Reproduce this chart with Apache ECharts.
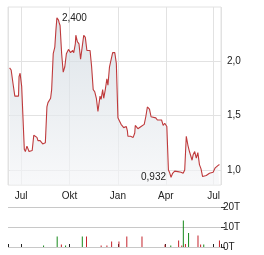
<!DOCTYPE html>
<html>
<head>
<meta charset="utf-8">
<script src="https://cdn.jsdelivr.net/npm/echarts@6/dist/echarts.min.js"></script>
<style>
  html, body { margin: 0; padding: 0; background: #fff; }
  #chart { width: 264px; height: 255px; }
</style>
</head>
<body>
<div id="chart"></div>
<script>
// price (closing values)
var priceDates = [
  '2023-06-09','2023-06-12','2023-06-16','2023-06-19','2023-06-26','2023-06-27','2023-06-29',
  '2023-07-02','2023-07-04','2023-07-07','2023-07-09','2023-07-12','2023-07-16','2023-07-18',
  '2023-07-22','2023-07-25','2023-07-28','2023-07-31','2023-08-02','2023-08-06','2023-08-08',
  '2023-08-11','2023-08-13','2023-08-16','2023-08-19','2023-08-21','2023-08-24','2023-08-26',
  '2023-08-28','2023-08-31','2023-09-03','2023-09-05','2023-09-07','2023-09-10','2023-09-11',
  '2023-09-13','2023-09-16','2023-09-19','2023-09-22','2023-09-25','2023-09-29','2023-10-03',
  '2023-10-07','2023-10-09','2023-10-12','2023-10-13','2023-10-16','2023-10-19','2023-10-22',
  '2023-10-25','2023-10-28','2023-10-31','2023-11-03','2023-11-09','2023-11-12','2023-11-15',
  '2023-11-18','2023-11-21','2023-11-24','2023-11-28','2023-11-30','2023-12-03','2023-12-05',
  '2023-12-08','2023-12-11','2023-12-13','2023-12-16','2023-12-19','2023-12-22','2023-12-26',
  '2023-12-29','2024-01-01','2024-01-04','2024-01-07','2024-01-10','2024-01-12','2024-01-17',
  '2024-01-19','2024-01-20','2024-01-25','2024-01-30','2024-02-02','2024-02-03','2024-02-06',
  '2024-02-08','2024-02-11','2024-02-14','2024-02-17','2024-02-20','2024-02-23','2024-02-26',
  '2024-03-01','2024-03-04','2024-03-07','2024-03-13','2024-03-16','2024-03-24','2024-03-27',
  '2024-03-30','2024-04-03','2024-04-06','2024-04-08','2024-04-11','2024-04-14','2024-04-18',
  '2024-04-24','2024-04-30','2024-05-04','2024-05-07','2024-05-10','2024-05-13','2024-05-16',
  '2024-05-19','2024-05-21','2024-05-23','2024-05-26','2024-05-29','2024-06-01','2024-06-04',
  '2024-06-07','2024-06-10','2024-06-17','2024-06-23','2024-06-30','2024-07-04','2024-07-06',
  '2024-07-09','2024-07-12'
];
var prices = [
  1.94, 1.92, 1.78, 1.68, 1.68, 1.86, 1.89,
  1.77, 1.76, 1.19, 1.17, 1.22, 1.17, 1.16,
  1.18, 1.32, 1.31, 1.30, 1.27, 1.27, 1.26,
  1.24, 1.23, 1.25, 1.58, 1.62, 1.63, 1.66,
  1.74, 2.07, 2.13, 2.28, 2.40, 2.38, 2.36,
  2.33, 2.07, 1.90, 1.95, 2.07, 2.11, 2.08,
  2.10, 2.08, 2.16, 2.24, 2.18, 2.16, 2.02,
  2.01, 2.24, 2.22, 2.10, 2.10, 1.95, 1.74,
  1.72, 1.66, 1.54, 1.68, 1.65, 1.74, 1.66,
  1.74, 1.84, 1.78, 1.95, 1.96, 2.08, 2.08,
  1.98, 1.48, 1.48, 1.42, 1.42, 1.39, 1.40,
  1.36, 1.31, 1.31, 1.30, 1.34, 1.41, 1.40,
  1.38, 1.39, 1.40, 1.40, 1.42, 1.49, 1.58,
  1.56, 1.49, 1.49, 1.48, 1.46, 1.46, 1.41,
  1.43, 1.40, 1.00, 0.98, 0.932, 0.97, 0.99,
  0.985, 0.98, 0.97, 1.00, 1.31, 1.23, 1.17,
  1.16, 1.09, 1.14, 1.17, 1.11, 1.16, 1.05,
  1.01, 0.94, 0.95, 0.97, 0.98, 1.02, 1.03,
  1.04, 1.05
];

// volume in thousands (T), up = green, down = red
var volDates = [
  '2023-08-12','2023-09-07','2023-09-15','2023-09-23','2023-10-25','2023-11-02',
  '2023-11-30','2023-12-11','2023-12-20','2024-01-03','2024-01-18','2024-02-16',
  '2024-03-31','2024-04-11','2024-04-26','2024-05-02','2024-05-05','2024-05-09',
  '2024-05-15','2024-06-02','2024-06-07','2024-06-13','2024-07-13'
];
var volumes = [
  0.7, 5.2, 1.2, 0.7, 5.2, 5.2,
  0.7, 0.7, 2.7, 2.7, 5.2, 5.2,
  1.2, 0.7, 3.2, 0.7, 13.2, 1.5,
  7.0, 5.7, 1.2, 1.2, 3.2
];
var volUp = [
  1, 1, 0, 1, 1, 0,
  0, 0, 0, 0, 0, 0,
  0, 1, 0, 0, 1, 0,
  1, 0, 0, 1, 0
];

var monthNames = ['Jan', 'Feb', 'Mär', 'Apr', 'Mai', 'Jun', 'Jul', 'Aug', 'Sep', 'Okt', 'Nov', 'Dez'];
var priceTicks = [1.0, 1.5, 2.0];

var xMin = '2023-06-06';
var xMax = '2024-07-15';
var fontFamily = '"Liberation Sans", Arial, sans-serif';
var textColor = '#222';
var gridColor = '#e2e2e2';

var priceData = [];
for (var i = 0; i < prices.length; i++) {
    priceData.push([priceDates[i], prices[i]]);
}
var volData = [];
for (var j = 0; j < volumes.length; j++) {
    volData.push({
        value: [volDates[j], volumes[j]],
        itemStyle: { color: volUp[j] ? '#16891a' : '#c4232b' }
    });
}

var myChart = echarts.init(document.getElementById('chart'), null, { renderer: 'canvas' });

var option = {
    animation: false,
    textStyle: { fontFamily: fontFamily },
    grid: [
        { left: 8, right: 43, top: 7, height: 178, show: true, borderColor: gridColor, borderWidth: 1, backgroundColor: 'transparent' },
        { left: 8, right: 43, top: 207, height: 40 }
    ],
    xAxis: [
        {
            type: 'time',
            gridIndex: 0,
            min: xMin,
            max: xMax,
            splitNumber: 4,
            axisLine: { show: false },
            axisTick: { show: false },
            splitLine: { show: true, lineStyle: { color: gridColor, width: 1 } },
            axisLabel: {
                color: textColor,
                fontSize: 10,
                margin: 6,
                hideOverlap: false,
                formatter: function (v) {
                    return monthNames[new Date(v).getMonth()];
                }
            }
        },
        {
            type: 'time',
            gridIndex: 1,
            position: 'top',
            min: xMin,
            max: xMax,
            splitNumber: 4,
            axisLine: { show: false },
            axisTick: { show: true, length: 3, lineStyle: { color: '#222' } },
            splitLine: { show: false },
            axisLabel: { show: false }
        }
    ],
    yAxis: [
        {
            type: 'value',
            gridIndex: 0,
            position: 'right',
            min: 0.862,
            max: 2.5,
            axisLine: { show: false },
            axisTick: { show: false, customValues: priceTicks },
            splitLine: { show: true, lineStyle: { color: gridColor, width: 1 } },
            axisLabel: {
                customValues: priceTicks,
                color: textColor,
                fontSize: 10,
                margin: 6,
                formatter: function (v) {
                    return v.toFixed(1).replace('.', ',');
                }
            }
        },
        {
            type: 'value',
            gridIndex: 1,
            position: 'right',
            min: 0,
            max: 20,
            interval: 10,
            axisLine: { show: false },
            axisTick: { show: true, length: 4, lineStyle: { color: '#333' } },
            splitLine: { show: true, lineStyle: { color: '#c8c8c8', width: 1 } },
            axisLabel: {
                color: textColor,
                fontSize: 10,
                margin: 2,
                formatter: function (v) {
                    return v + 'T';
                }
            }
        }
    ],
    series: [
        {
            type: 'line',
            xAxisIndex: 0,
            yAxisIndex: 0,
            data: priceData,
            showSymbol: false,
            lineStyle: { color: '#bf3a3c', width: 1.1 },
            areaStyle: {
                color: new echarts.graphic.LinearGradient(0, 0, 0, 1, [
                    { offset: 0, color: '#cfd8df' },
                    { offset: 1, color: '#f4f5f7' }
                ])
            },
            markPoint: {
                symbol: 'circle',
                symbolSize: 0,
                label: {
                    show: true,
                    color: textColor,
                    fontSize: 10,
                    distance: 5,
                    formatter: function (p) {
                        return p.value.toFixed(3).replace('.', ',');
                    }
                },
                data: [
                    { type: 'max', label: { position: 'right' } },
                    { type: 'min', label: { position: 'left' } }
                ]
            }
        },
        {
            type: 'bar',
            xAxisIndex: 1,
            yAxisIndex: 1,
            barWidth: 1,
            data: volData
        }
    ]
};

myChart.setOption(option);
</script>
</body>
</html>
